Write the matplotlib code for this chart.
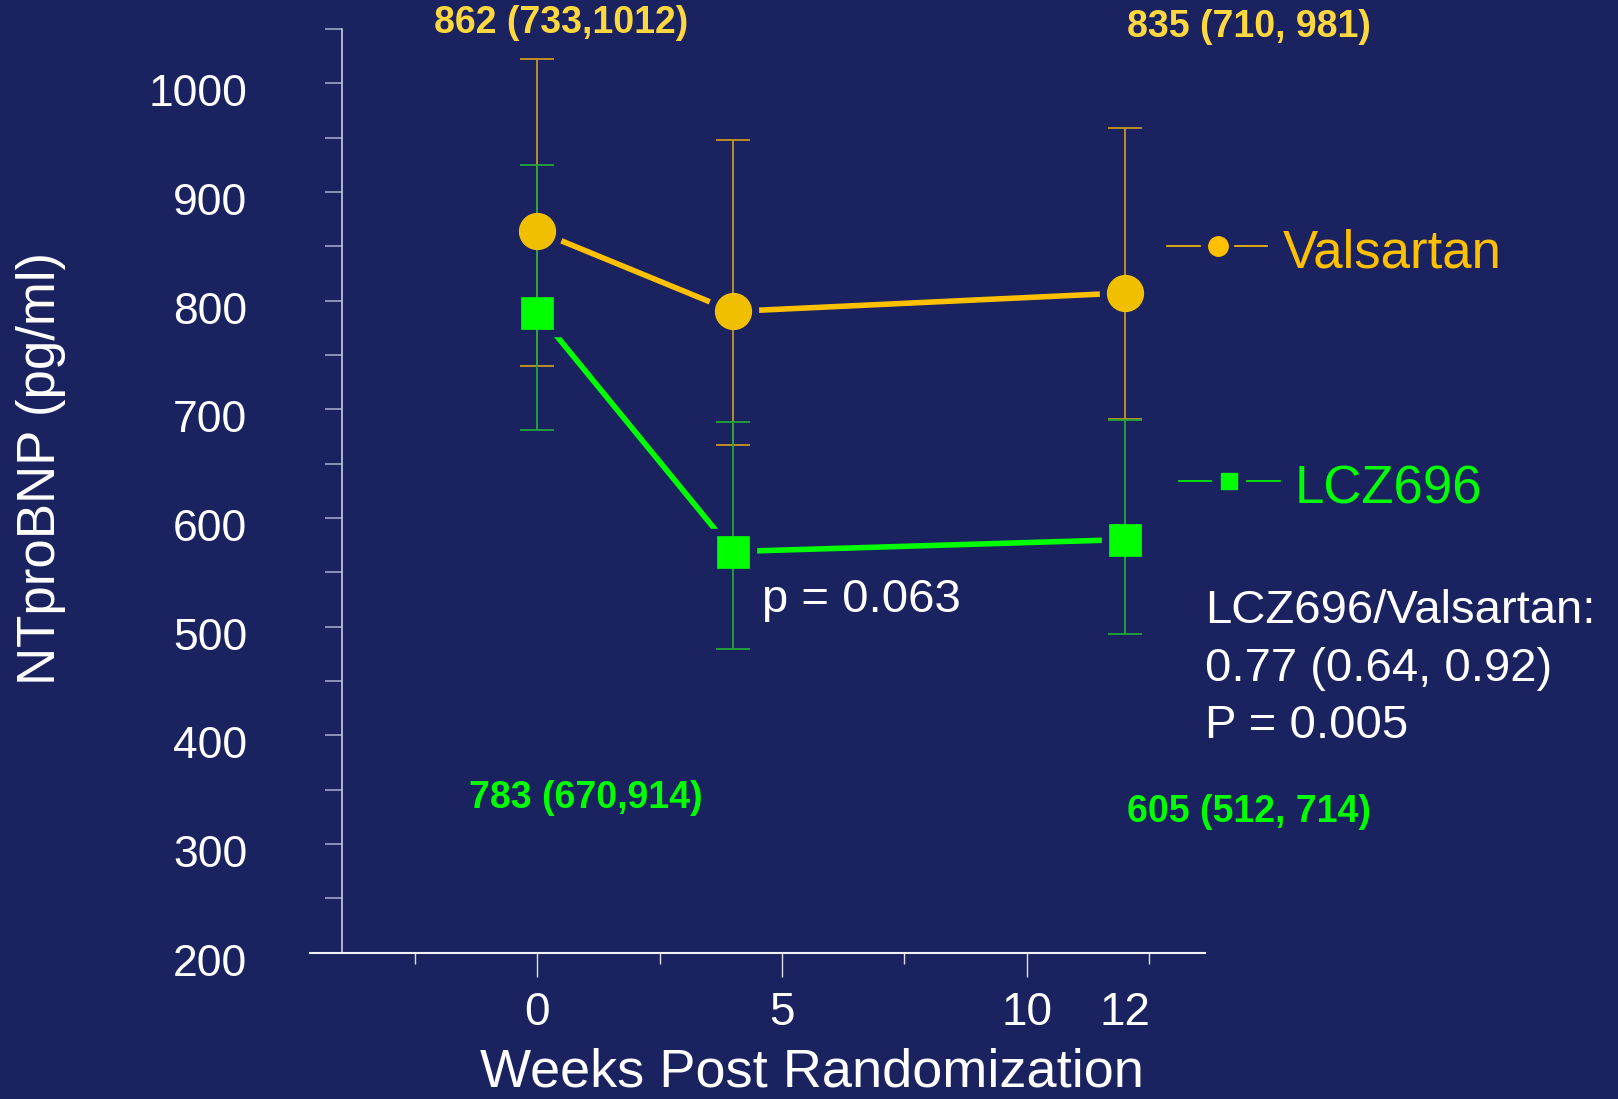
import matplotlib
matplotlib.use("Agg")
import matplotlib.pyplot as plt
from matplotlib.lines import Line2D
from matplotlib.transforms import ScaledTranslation
import numpy as np

plt.rcParams["font.family"] = ["Liberation Sans", "DejaVu Sans"]

BG = "#1a2260"
YEL = "#ffc000"
YEL_TXT = "#ffd840"
GRN = "#00ff00"

weeks = [0, 4, 12]
valsartan = [864, 790, 807]
valsartan_lo = [740, 667, 691]
valsartan_hi = [1022, 948, 959]
lcz696 = [789, 569, 580]
lcz696_lo = [681, 479, 493]
lcz696_hi = [925, 688, 690]

yticks = list(range(200, 1001, 100))
yminor = list(range(250, 1051, 100))
xticks = [0, 5, 10, 12]
xminor = [-2.5, 2.5, 7.5, 12.5]

fig = plt.figure(figsize=(16.18, 10.99), dpi=100, facecolor=BG)
ax = fig.add_axes([0.1913, 0.1333, 0.5536, 0.8404], facecolor=BG)


def errs(mid, lo, hi):
    return [np.subtract(mid, lo), np.subtract(hi, mid)]


ax.plot(weeks, valsartan, color=YEL, lw=4, zorder=3)
ax.plot(weeks, lcz696, color=GRN, lw=4, zorder=3)
# background-coloured halo leaves the small gap between lines and markers
ax.plot(weeks, valsartan, ls="none", marker="o", ms=36, mfc=BG, mec=BG, zorder=3.2)
ax.plot(weeks, lcz696, ls="none", marker="s", ms=33, mfc=BG, mec=BG, zorder=3.2)

ax.errorbar(weeks, valsartan, yerr=errs(valsartan, valsartan_lo, valsartan_hi),
            fmt="none", ecolor="#c8961e", elinewidth=1.3, capsize=12, capthick=1.3, zorder=3.5)
ax.errorbar(weeks, lcz696, yerr=errs(lcz696, lcz696_lo, lcz696_hi),
            fmt="none", ecolor="#22a83a", elinewidth=1.3, capsize=12, capthick=1.3, zorder=3.5)

ax.plot(weeks, valsartan, ls="none", marker="o", ms=26, mfc="#f0c000",
        mec="#f5c400", mew=0.8, zorder=4)
ax.plot(weeks, lcz696, ls="none", marker="s", ms=23, mfc=GRN,
        mec=GRN, mew=0.5, zorder=4)

ax.set_xlim(-4.66, 13.65)
ax.set_ylim(200, 1049)

for s in ["top", "right"]:
    ax.spines[s].set_visible(False)
ax.spines["left"].set_position(("data", -4))
ax.spines["left"].set_color("#c8cce0")
ax.spines["bottom"].set_color("#f0f0f5")
ax.spines["left"].set_linewidth(1.2)
ax.spines["bottom"].set_linewidth(1.5)

ax.set_yticks(yticks)
ax.set_yticks(yminor, minor=True)
ax.set_yticklabels([str(v) for v in yticks])
ax.tick_params(axis="y", which="both", direction="out", length=12, width=1.2,
               color="#a0a4c8", labelcolor="white", labelsize=32, pad=56)
shift = ScaledTranslation(0, -0.07, fig.dpi_scale_trans)
for lab in ax.get_yticklabels():
    lab.set_transform(lab.get_transform() + shift)

ax.set_xticks(xticks)
ax.set_xticks(xminor, minor=True)
ax.set_xticklabels([str(v) for v in xticks])
ax.tick_params(axis="x", which="major", direction="out", length=17, width=1,
               color="#e0e0ea", labelcolor="white", labelsize=33, pad=11)
ax.tick_params(axis="x", which="minor", direction="out", length=8, width=1,
               color="#e0e0ea")
ax.xaxis.get_major_ticks()[3].tick1line.set_visible(False)

fig.text(787 / 1568, 0.0118, "Weeks Post Randomization", color="white",
         fontsize=39, ha="center", va="baseline")
ax.set_ylabel("NTproBNP (pg/ml)", color="white", fontsize=38)
ax.yaxis.set_label_coords(-0.272, 0.524)

# value annotations
fig.text(0.347, 0.979, "862 (733,1012)", color=YEL_TXT, fontsize=27,
         fontweight="bold", ha="center", va="center")
fig.text(0.772, 0.975, "835 (710, 981)", color=YEL_TXT, fontsize=27,
         fontweight="bold", ha="center", va="center")
fig.text(0.362, 0.274, "783 (670,914)", color=GRN, fontsize=27,
         fontweight="bold", ha="center", va="center")
fig.text(0.772, 0.261, "605 (512, 714)", color=GRN, fontsize=27,
         fontweight="bold", ha="center", va="center")

fig.text(0.4707, 0.4545, "p = 0.063", color="white", fontsize=34,
         ha="left", va="center")
fig.text(0.745, 0.3915, "LCZ696/Valsartan:\n0.77 (0.64, 0.92)\nP = 0.005",
         color="white", fontsize=34, ha="left", va="center", linespacing=1.4)

# legend drawn by hand
W, H = 1568.0, 1065.0


def leg(x0, x1, xm, y, color, marker, ms, label, xt, yt):
    yy = 1 - y / H
    fig.add_artist(Line2D([x0 / W, (xm - 17) / W], [yy, yy], color=color, lw=1.2))
    fig.add_artist(Line2D([(xm + 17) / W, x1 / W], [yy, yy], color=color, lw=1.2))
    fig.add_artist(Line2D([xm / W], [yy], marker=marker, ms=ms, mfc=color,
                          mec=color, ls="none"))
    fig.text(xt / W, 1 - yt / H, label, color=color, fontsize=38,
             ha="left", va="center")


leg(1131, 1228, 1180, 238, YEL, "o", 14, "Valsartan", 1243, 246)
leg(1143, 1240, 1191, 466, GRN, "s", 12, "LCZ696", 1255, 474)

fig.savefig("out.png", dpi=100, facecolor=BG)
